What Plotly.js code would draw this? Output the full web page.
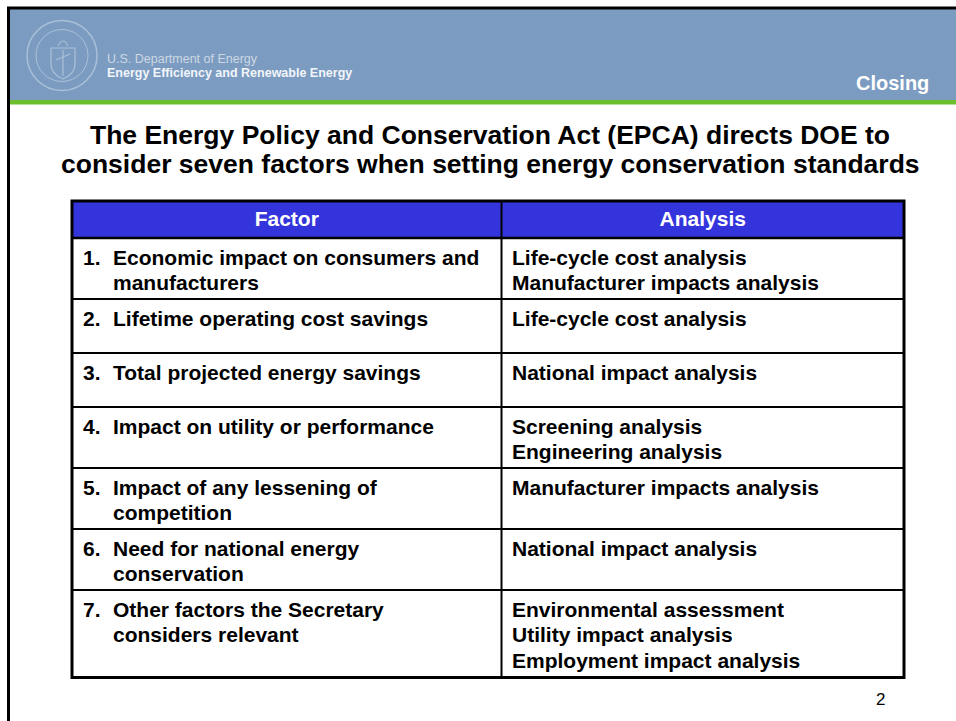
<!DOCTYPE html>
<html>
<head>
<meta charset="utf-8">
<script src="https://cdn.plot.ly/plotly-3.0.1.min.js"></script>
<style>
html, body { margin: 0; padding: 0; background: #ffffff; }
#chart { width: 956px; height: 721px; }
</style>
</head>
<body>
<div id="chart"></div>
<script>
// ---------------- data ----------------
const headers = ['Factor', 'Analysis'];
const factorNumbers = ['1.', '2.', '3.', '4.', '5.', '6.', '7.'];
const factorLines = [
  ['Economic impact on consumers and', 'manufacturers'],
  ['Lifetime operating cost savings'],
  ['Total projected energy savings'],
  ['Impact on utility or performance'],
  ['Impact of any lessening of', 'competition'],
  ['Need for national energy', 'conservation'],
  ['Other factors the Secretary', 'considers relevant']
];
const analysisLines = [
  ['Life-cycle cost analysis', 'Manufacturer impacts analysis'],
  ['Life-cycle cost analysis'],
  ['National impact analysis'],
  ['Screening analysis', 'Engineering analysis'],
  ['Manufacturer impacts analysis'],
  ['National impact analysis'],
  ['Environmental assessment', 'Utility impact analysis', 'Employment impact analysis']
];
const titleLines = [
  'The Energy Policy and Conservation Act (EPCA) directs DOE to',
  'consider seven factors when setting energy conservation standards'
];
const orgLines = ['U.S. Department of Energy', 'Energy Efficiency and Renewable Energy'];
const sectionLabel = 'Closing';
const pageNumber = '2';

// ---------------- layout constants ----------------
const W = 956, H = 721;
const FONT = 'Liberation Sans, Arial, Helvetica, sans-serif';
const tbl = { left: 72, right: 904, split: 501.5, top: 201, headerBottom: 238 };
const CELL_FS = 21, HEAD_FS = 21, LINE_STEP = 25.5, BASELINE = 26.5;
const TITLE_FS = 26.5, TITLE_BASE = [144.3, 172.8], TITLE_X = 490;
const numX = 83, factorX = 113, analysisX = 512;
function rowHeight(n) { return Math.max(54, 8 + 26.5 * n); }

const nLines = factorLines.map((f, i) => Math.max(f.length, analysisLines[i].length));
const rowTops = [];
let yAcc = tbl.headerBottom;
nLines.forEach(n => { rowTops.push(yAcc); yAcc += rowHeight(n); });
const tableBottom = yAcc;

function cellTextTrace(linesArr, x, name) {
  const xs = [], ys = [], ts = [];
  linesArr.forEach((lines, r) => {
    lines.forEach((t, i) => {
      xs.push(x);
      ys.push(rowTops[r] + BASELINE - 0.75 * CELL_FS + i * LINE_STEP);
      ts.push(t);
    });
  });
  return {
    type: 'scatter', mode: 'text', name: name, x: xs, y: ys, text: ts,
    textposition: 'bottom right',
    textfont: { family: FONT, size: CELL_FS, color: '#000000', weight: 700 },
    hoverinfo: 'skip', showlegend: false, cliponaxis: false
  };
}

const traces = [
  {
    type: 'scatter', mode: 'text', name: 'header',
    x: [(tbl.left + tbl.split) / 2, (tbl.split + tbl.right) / 2],
    y: [226 - 0.25 * HEAD_FS, 226 - 0.25 * HEAD_FS],
    text: headers, textposition: 'middle center',
    textfont: { family: FONT, size: HEAD_FS, color: '#ffffff', weight: 700 },
    hoverinfo: 'skip', showlegend: false, cliponaxis: false
  },
  cellTextTrace(factorNumbers.map(n => [n]), numX, 'numbers'),
  cellTextTrace(factorLines, factorX, 'factors'),
  cellTextTrace(analysisLines, analysisX, 'analysis')
];

// ---------------- shapes ----------------
const shapes = [];
// header band
shapes.push({ type: 'rect', layer: 'below', xref: 'x', yref: 'y', x0: 9, x1: W, y0: 9, y1: 100,
  fillcolor: '#7B9CC0', line: { width: 0 } });
shapes.push({ type: 'rect', layer: 'below', xref: 'x', yref: 'y', x0: 9, x1: W, y0: 100, y1: 104.5,
  fillcolor: '#6BBE2C', line: { width: 0 } });
// seal (decorative, faint)
const sealColor = 'rgba(190,206,226,0.7)';
shapes.push({ type: 'circle', layer: 'below', xref: 'x', yref: 'y', x0: 27, x1: 97, y0: 20.5, y1: 90.5,
  line: { color: sealColor, width: 1.5 } });
shapes.push({ type: 'circle', layer: 'below', xref: 'x', yref: 'y', x0: 36, x1: 88, y0: 29.5, y1: 81.5,
  line: { color: sealColor, width: 1 } });
shapes.push({ type: 'path', layer: 'below', xref: 'x', yref: 'y',
  path: 'M 51 48 L 75 48 L 75 64 Q 75 74 63 79 Q 51 74 51 64 Z',
  line: { color: sealColor, width: 1.2 } });
shapes.push({ type: 'path', layer: 'below', xref: 'x', yref: 'y',
  path: 'M 58 46 Q 63 36 68 46 M 56 60 L 70 54 M 63 50 L 63 76',
  line: { color: sealColor, width: 1.2 } });
// slide frame
shapes.push({ type: 'line', xref: 'x', yref: 'y', x0: 7, x1: W, y0: 8, y1: 8, line: { color: '#000', width: 3 } });
shapes.push({ type: 'line', xref: 'x', yref: 'y', x0: 8.5, x1: 8.5, y0: 7, y1: H, line: { color: '#000', width: 3 } });
// table header fill
shapes.push({ type: 'rect', layer: 'below', xref: 'x', yref: 'y', x0: tbl.left, x1: tbl.right, y0: tbl.top, y1: tbl.headerBottom,
  fillcolor: '#3434DC', line: { width: 0 } });
// row separators
rowTops.forEach((t, i) => {
  shapes.push({ type: 'line', xref: 'x', yref: 'y', x0: tbl.left, x1: tbl.right, y0: t, y1: t,
    line: { color: '#000', width: i === 0 ? 2.5 : 2 } });
});
// column divider
shapes.push({ type: 'line', xref: 'x', yref: 'y', x0: tbl.split, x1: tbl.split, y0: tbl.top, y1: tableBottom,
  line: { color: '#000', width: 2 } });
// outer border
shapes.push({ type: 'rect', xref: 'x', yref: 'y', x0: tbl.left, x1: tbl.right, y0: tbl.top, y1: tableBottom,
  line: { color: '#000', width: 3 } });

// ---------------- annotations ----------------
const ORG_FS = 12.5;
const annotations = [
  { xref: 'x', yref: 'y', x: 107, y: 63 - 0.35 * ORG_FS, xanchor: 'left', yanchor: 'middle', showarrow: false,
    text: orgLines[0], borderpad: 0, borderwidth: 0,
    font: { family: FONT, size: ORG_FS, color: '#CDD7E4' } },
  { xref: 'x', yref: 'y', x: 107, y: 77.5 - 0.35 * ORG_FS, xanchor: 'left', yanchor: 'middle', showarrow: false,
    text: orgLines[1], borderpad: 0, borderwidth: 0,
    font: { family: FONT, size: ORG_FS, color: '#F2F5FA', weight: 700 } },
  { xref: 'x', yref: 'y', x: TITLE_X, y: TITLE_BASE[1] - 0.35 * TITLE_FS, xanchor: 'center', yanchor: 'middle', showarrow: false,
    text: titleLines[1], borderpad: 0, borderwidth: 0,
    font: { family: FONT, size: TITLE_FS, color: '#000000', weight: 700 } },
  { xref: 'x', yref: 'y', x: 929, y: 90 - 0.35 * 20, xanchor: 'right', yanchor: 'middle', showarrow: false,
    text: sectionLabel, borderpad: 0, borderwidth: 0,
    font: { family: FONT, size: 20, color: '#ffffff', weight: 700 } },
  { xref: 'x', yref: 'y', x: 880.5, y: 705 - 0.35 * 17, xanchor: 'center', yanchor: 'middle', showarrow: false,
    text: pageNumber, borderpad: 0, borderwidth: 0,
    font: { family: FONT, size: 17, color: '#000000' } }
];

const layout = {
  width: W, height: H,
  margin: { l: 0, r: 0, t: 0, b: 0, pad: 0 },
  paper_bgcolor: '#ffffff', plot_bgcolor: '#ffffff',
  showlegend: false,
  title: {
    text: titleLines[0],
    font: { family: FONT, size: TITLE_FS, color: '#000000', weight: 700 },
    x: TITLE_X / W, xanchor: 'center', xref: 'container',
    y: 1 - (TITLE_BASE[0] - 0.35 * TITLE_FS) / H, yanchor: 'middle', yref: 'container'
  },
  xaxis: { range: [0, W], visible: false, fixedrange: true },
  yaxis: { range: [H, 0], visible: false, fixedrange: true },
  shapes: shapes,
  annotations: annotations
};

Plotly.newPlot('chart', traces, layout, { displayModeBar: false, staticPlot: true });
</script>
</body>
</html>
